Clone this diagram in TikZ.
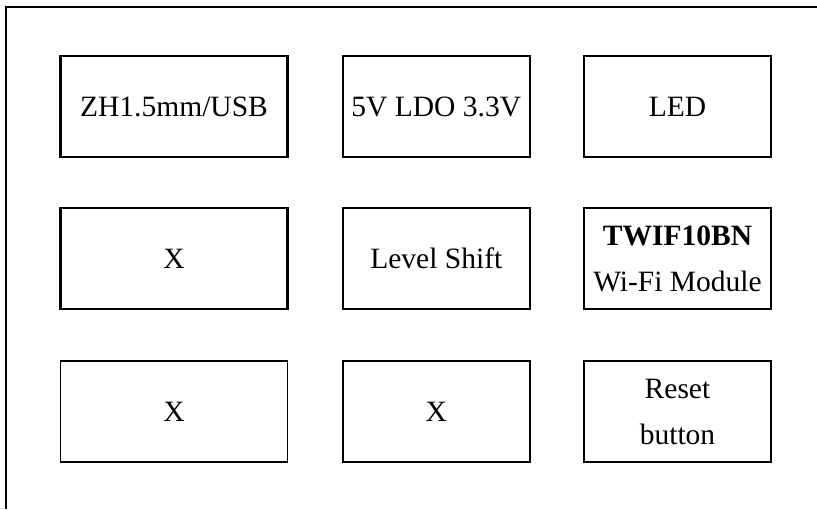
\documentclass[tikz,border=0pt]{standalone}
\usepackage{fontspec}
\setmainfont{Liberation Serif}
\begin{document}
\begin{tikzpicture}[x=1pt,y=-1pt,
  blk/.style={draw=black,line width=2.2pt,inner sep=0pt,align=center,
    font=\fontsize{29.5}{46}\selectfont},
  wideblk/.style={blk,minimum width=227pt,minimum height=101pt},
  narrowblk/.style={blk,minimum width=187pt,minimum height=101pt},
  frameline/.style={line width=1.8pt,draw=black}]
\useasboundingbox (0,0) rectangle (817,509);
\coordinate (ftl) at (6,7);
\coordinate (ftr) at (817,7);
\coordinate (fbl) at (6,509);
\draw[frameline] (ftr) -- (ftl) -- (fbl);
\node[wideblk] (zh) at (174,106.5) {ZH1.5mm/USB};
\node[narrowblk] (ldo) at (436.3,106.5) {5V LDO 3.3V};
\node[narrowblk] (led) at (677.5,106.5) {LED};
\node[wideblk] (x1) at (174,258.5) {X};
\node[narrowblk] (ls) at (436.3,258.5) {Level Shift};
\node[narrowblk] (wifi) at (677.5,258.5) {\textbf{TWIF10BN}\\Wi-Fi Module};
\node[wideblk,line width=1.6pt] (x2) at (174,411.5) {X};
\node[narrowblk] (x3) at (436.3,411.5) {X};
\node[narrowblk] (rst) at (677.5,411.5) {Reset\\button};
\end{tikzpicture}
\end{document}
